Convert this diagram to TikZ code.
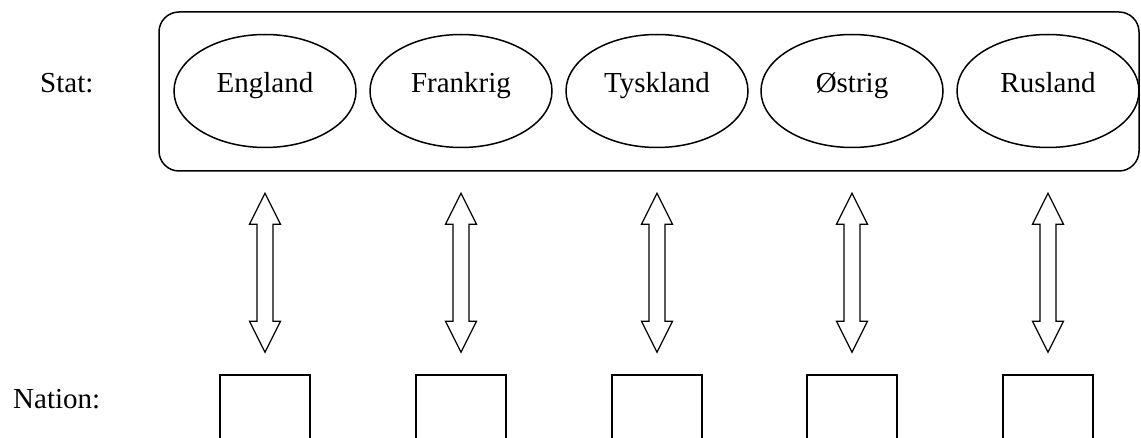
\documentclass[tikz,border=0pt]{standalone}
\usepackage{fontspec}
\setmainfont{Liberation Serif}
\usetikzlibrary{calc,shapes.geometric}
\begin{document}
\begin{tikzpicture}[x=1pt,y=-1pt,
  txt/.style={font=\fontsize{29}{34}\selectfont},
  staat/.style={txt,draw,ellipse,line width=1.5pt,minimum width=182pt,minimum height=113pt,inner sep=0pt,text height=20pt,text depth=16pt},
  frame/.style={draw,rounded corners=20pt,line width=1.5pt},
  fat/.style={draw,line width=1.3pt,line join=miter},
  natbox/.style={draw,line width=1.3pt,minimum width=90pt,minimum height=90pt,anchor=north,inner sep=0pt},
  rowlabel/.style={txt,anchor=base west,inner sep=0pt}]
\useasboundingbox (0,0) rectangle (1141,438);
\clip (0,0) rectangle (1141,438);
\draw[frame] (159,12) rectangle (1139,171);
\node[rowlabel] (stat) at (40,93) {Stat:};
\node[rowlabel] (nation) at (13,408) {Nation:};
\node[staat] (e1) at (265,91) {England};
\node[staat] (e2) at (461,91) {Frankrig};
\node[staat] (e3) at (657,91) {Tyskland};
\node[staat] (e4) at (852,91) {Østrig};
\node[staat] (e5) at (1048,91) {Rusland};
\foreach \i in {1,...,5}{
  \node[natbox] (n\i) at ($(e\i.south)+(0,226)$) {};
  \coordinate (t\i) at ($(e\i.south)+(0,45)$);
  \draw[fat] (t\i) -- ++(15.5,31) -- ++(-7.5,0) -- ++(0,97) -- ++(7.5,0)
    -- ++(-15.5,31) -- ++(-15.5,-31) -- ++(7.5,0) -- ++(0,-97) -- ++(-7.5,0) -- cycle;
}
\end{tikzpicture}
\end{document}
